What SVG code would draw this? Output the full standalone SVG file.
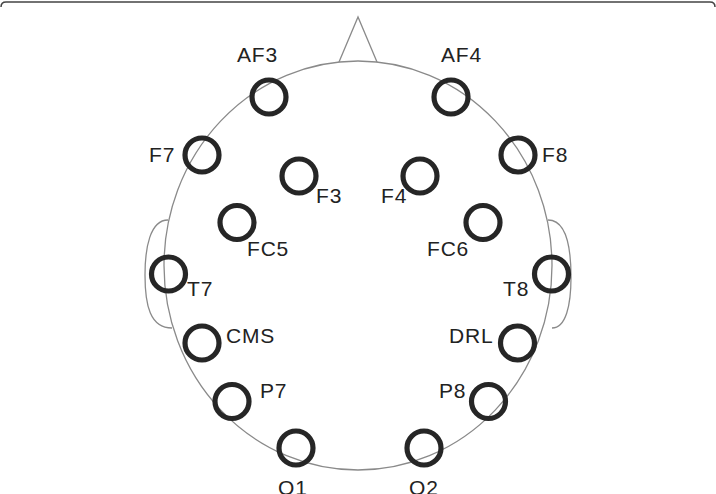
<svg xmlns="http://www.w3.org/2000/svg" width="716" height="494" viewBox="0 0 716 494">
<style>
.head{fill:none;stroke:#8a8a8a;stroke-width:1.3}
.el{fill:none;stroke:#262626;stroke-width:5.2}
.lbl{font-family:"Liberation Sans",Arial,sans-serif;font-size:21px;fill:#222;letter-spacing:0.8px}
</style>
<rect x="0" y="0" width="716" height="494" fill="#fff"/>
<path d="M1,7 Q1,2 6,2 H710 Q715,2 715,7" fill="none" stroke="#444" stroke-width="1.5"/>
<g id="head">
<ellipse class="head" cx="358" cy="265.5" rx="194" ry="204.5"/>
<path class="head" d="M339,62 L358,17 L377,62"/>
<path class="head" d="M168,220 C150,220 145,248 145,275 C145,305 150,328 172,328"/>
<path class="head" d="M548,220 C566,220 571,248 571,277 C571,305 566,328 552,328"/>
</g>
<g id="connectors"></g>
<g id="AF3"><circle class="el" cx="269" cy="97" r="17"/><text class="lbl" x="237" y="62">AF3</text></g>
<g id="AF4"><circle class="el" cx="451" cy="97" r="17"/><text class="lbl" x="441" y="62">AF4</text></g>
<g id="F7"><circle class="el" cx="202" cy="155" r="17"/><text class="lbl" x="149" y="162">F7</text></g>
<g id="F8"><circle class="el" cx="518" cy="155" r="17"/><text class="lbl" x="542" y="162">F8</text></g>
<g id="F3"><circle class="el" cx="299" cy="176" r="17"/><text class="lbl" x="316" y="203">F3</text></g>
<g id="F4"><circle class="el" cx="420" cy="176" r="17"/><text class="lbl" x="381" y="203">F4</text></g>
<g id="FC5"><circle class="el" cx="237" cy="222.5" r="17"/><text class="lbl" x="247" y="256">FC5</text></g>
<g id="FC6"><circle class="el" cx="483" cy="222.5" r="17"/><text class="lbl" x="427" y="256">FC6</text></g>
<g id="T7"><circle class="el" cx="168.5" cy="274" r="17"/><text class="lbl" x="187" y="296">T7</text></g>
<g id="T8"><circle class="el" cx="551.5" cy="274" r="17"/><text class="lbl" x="503" y="296">T8</text></g>
<g id="CMS"><circle class="el" cx="202" cy="343" r="17"/><text class="lbl" x="226" y="343">CMS</text></g>
<g id="DRL"><circle class="el" cx="517.5" cy="343" r="17"/><text class="lbl" x="449" y="343">DRL</text></g>
<g id="P7"><circle class="el" cx="232" cy="401.5" r="17"/><text class="lbl" x="260" y="398">P7</text></g>
<g id="P8"><circle class="el" cx="488.5" cy="401.5" r="17"/><text class="lbl" x="439" y="398">P8</text></g>
<g id="O1"><circle class="el" cx="296" cy="448" r="17"/><text class="lbl" x="278" y="495">O1</text></g>
<g id="O2"><circle class="el" cx="424" cy="448" r="17"/><text class="lbl" x="409" y="495">O2</text></g>
</svg>
